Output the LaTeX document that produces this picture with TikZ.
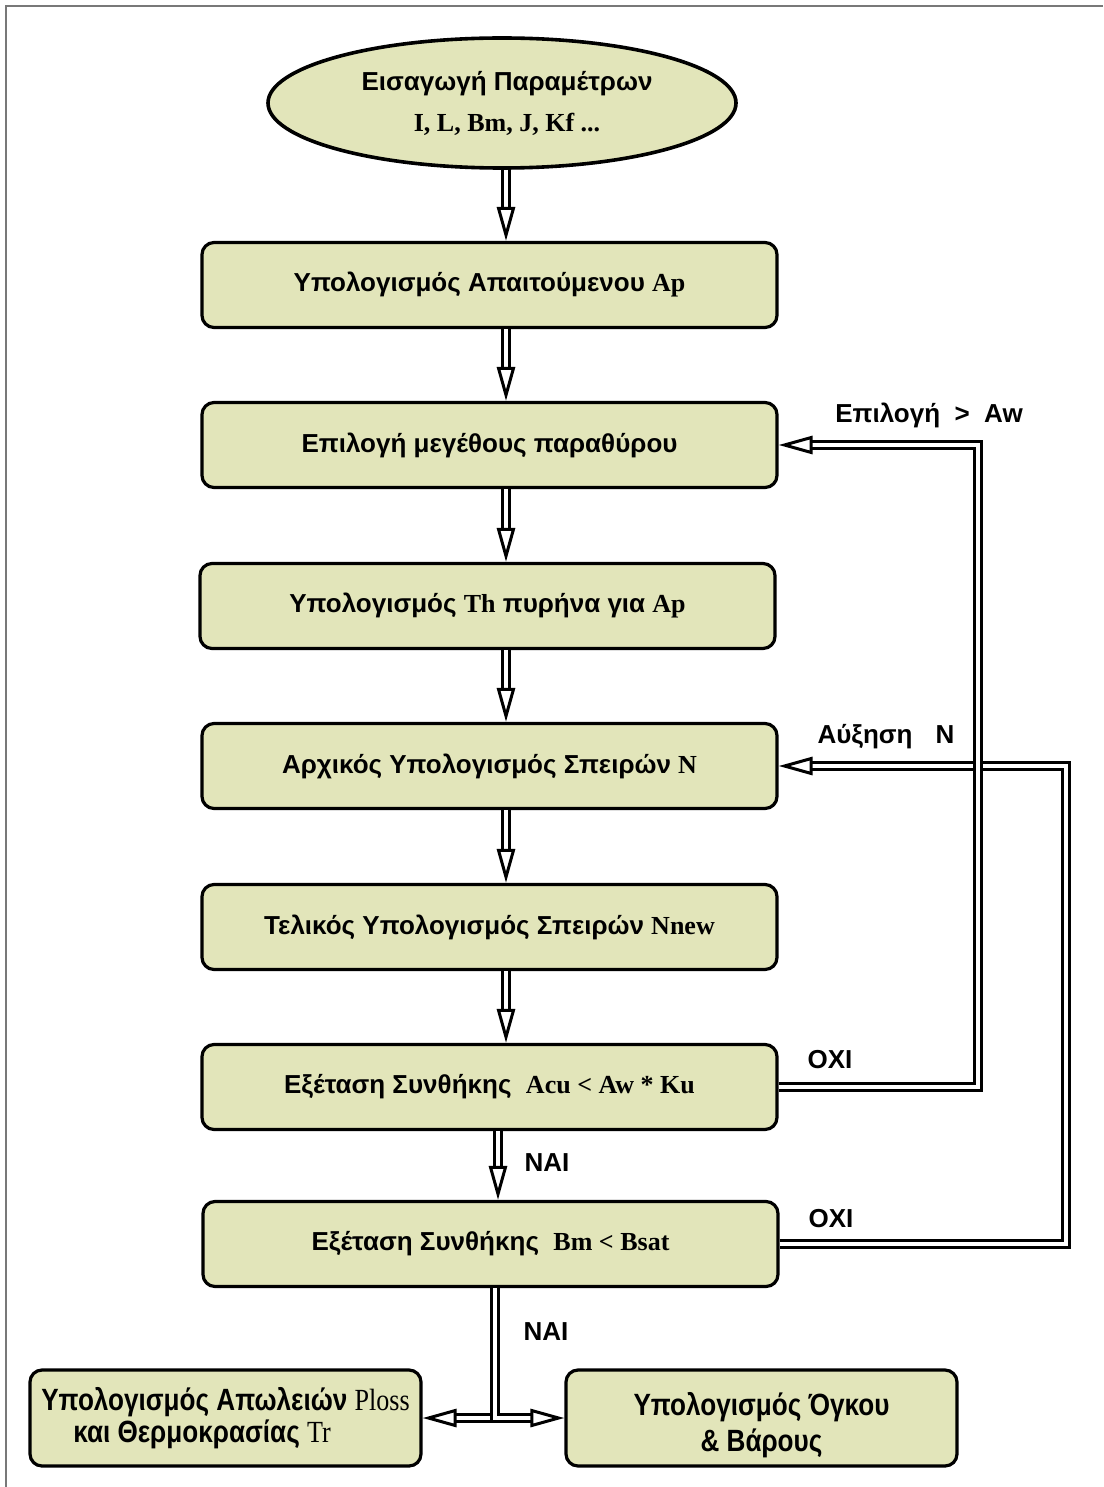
\documentclass[tikz,border=0pt]{standalone}
\usepackage{fontspec}
\setmainfont{Liberation Sans}
\newfontfamily\tnr{Liberation Serif}
\usetikzlibrary{arrows.meta,shapes.geometric}
\definecolor{boxfill}{RGB}{226,229,186}
\definecolor{framegray}{RGB}{120,120,120}
% variable names are set in bold serif
\newcommand{\vn}[1]{{\tnr\bfseries #1}}
% narrow lettering of the two result boxes
\newcommand{\nw}[1]{\scalebox{0.9}[1.06]{#1}}
\begin{document}
\begin{tikzpicture}[x=0.5pt,y=-0.5pt,
  stepbox/.style={draw=black, line width=1.6pt, fill=boxfill, rounded corners=6pt,
    minimum width=287.5pt, minimum height=42.5pt, inner sep=0pt,
    font=\fontsize{13}{15}\selectfont\bfseries},
  endbox/.style={draw=black, line width=1.6pt, fill=boxfill, rounded corners=6pt,
    minimum width=195.5pt, minimum height=48pt, inner sep=0pt, align=center,
    font=\fontsize{14.5}{16}\selectfont\bfseries},
  startnode/.style={draw=black, line width=1.8pt, fill=boxfill, ellipse,
    minimum width=234pt, minimum height=65pt, inner sep=0pt, align=center,
    font=\fontsize{13}{20.5}\selectfont\bfseries},
  lbl/.style={font=\fontsize{13}{15}\selectfont\bfseries, inner sep=0pt},
  dl/.style={draw=black, line width=1.5pt, double=white, double distance=1.6pt},
  tip/.style={-{Triangle[open, fill=white, length=17pt, width=9pt, line width=1.5pt]}}
]
\useasboundingbox (0,0) rectangle (1103,1487);
% page frame
\draw[framegray, line width=1pt] (6,1487) -- (6,6) -- (1103,6);

% steps
\node[startnode] (start) at (502,103) {\hspace*{5pt}Εισαγωγή Παραμέτρων\\ \hspace*{5pt}\vn{I, L, Bm, J, Kf ...}};
\node[stepbox] (b1) at (489.5,285) {Υπολογισμός Απαιτούμενου \vn{Ap}};
\node[stepbox] (b2) at (489.5,445) {Επιλογή μεγέθους παραθύρου};
\node[stepbox] (b3) at (487.5,606) {Υπολογισμός \vn{Th} πυρήνα για \vn{Ap}};
\node[stepbox] (b4) at (489.5,766) {Αρχικός Υπολογισμός Σπειρών \vn{N}};
\node[stepbox] (b5) at (489.5,927) {Τελικός Υπολογισμός Σπειρών \vn{Nnew}};
\node[stepbox] (b6) at (489.5,1087) {Εξέταση Συνθήκης \ \vn{Acu < Aw * Ku}};
\node[stepbox] (b7) at (490.5,1244) {Εξέταση Συνθήκης \ \vn{Bm < Bsat}};
\node[endbox] (b8) at (225.5,1418) {\nw{Υπολογισμός Απωλειών {\tnr\mdseries Ploss}}\\[0pt]\nw{\kern-1.8em και Θερμοκρασίας {\tnr\mdseries Tr}}};
\node[endbox] (b9) at (761.5,1418) {\raisebox{-8pt}[0pt][0pt]{\begin{tabular}{@{}c@{}}\nw{Υπολογισμός Όγκου}\\[2pt]\nw{\& Βάρους}\end{tabular}}};

% branch labels
\node[lbl] (l1) at (929,415) {Επιλογή \;>\; Aw};
\node[lbl] (l2) at (886,737) {Αύξηση \,\, N};
\node[lbl] (l3) at (830,1060) {OXI};
\node[lbl] (l4) at (831,1219) {OXI};
\node[lbl] (l5) at (547,1163) {NAI};
\node[lbl] (l6) at (546,1332) {NAI};

% connector guide lines
\coordinate (ax) at (506,0);
\coordinate (nx) at (498,0);
\coordinate (bx) at (495,0);
\coordinate (lp1) at (978,0);
\coordinate (lp2) at (1066,0);

% main flow
\draw[dl,tip] (ax |- start.south) -- (ax |- b1.north);
\draw[dl,tip] (ax |- b1.south) -- (ax |- b2.north);
\draw[dl,tip] (ax |- b2.south) -- (ax |- b3.north);
\draw[dl,tip] (ax |- b3.south) -- (ax |- b4.north);
\draw[dl,tip] (ax |- b4.south) -- (ax |- b5.north);
\draw[dl,tip] (ax |- b5.south) -- (ax |- b6.north);
\draw[dl,tip] (nx |- b6.south) -- (nx |- b7.north);

% feedback loops
\draw[dl,tip] (b7.east) -- (b7.east -| lp2) |- (b4.east);
\draw[dl,tip] (b6.east) -- (b6.east -| lp1) |- (b2.east);

% final split
\draw[dl,tip] (bx |- b7.south) |- (b8.east);
\draw[dl,tip] (bx |- b7.south) |- (b9.west);
\end{tikzpicture}
\end{document}
